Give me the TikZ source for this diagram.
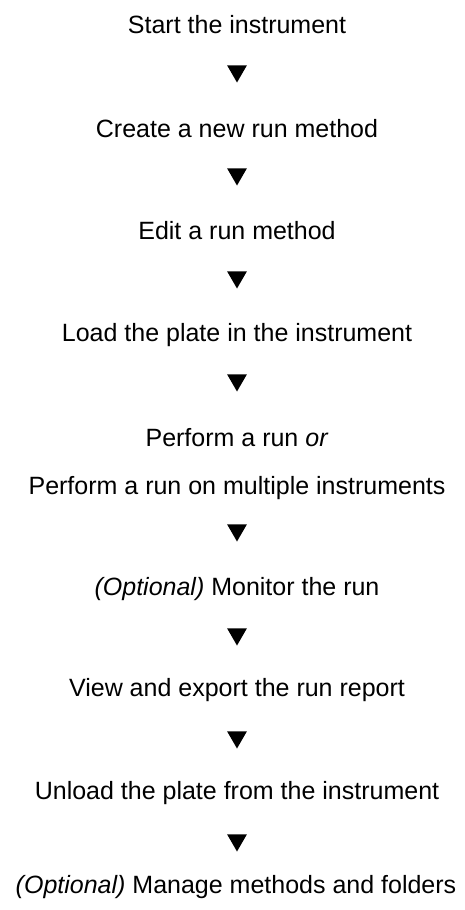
\documentclass[tikz,border=0pt]{standalone}
\usepackage{fontspec}
\setmainfont{Liberation Sans}
\usetikzlibrary{shapes.geometric}

\tikzset{
    steptext/.style={anchor=base, inner sep=0pt, font=\fontsize{25}{30}\selectfont},
    downmark/.style={regular polygon, regular polygon sides=3, shape border rotate=180,
        fill=black, draw=none, inner sep=0pt, minimum size=23pt},
}

\begin{document}
\begin{tikzpicture}[x=1pt, y=-1pt]
    % Page frame (same size as the reference)
    \useasboundingbox (0,0) rectangle (464,910);

    % Steps of the workflow
    \node[steptext] (start)   at (237,33)  {Start the instrument};
    \node[steptext] (create)  at (237,137) {Create a new run method};
    \node[steptext] (edit)    at (237,239) {Edit a run method};
    \node[steptext] (load)    at (237,341) {Load the plate in the instrument};
    \node[steptext] (run)     at (237,446) {Perform a run \textit{or}};
    \node[steptext] (runmult) at (237,494) {Perform a run on multiple instruments};
    \node[steptext] (monitor) at (237,595) {\textit{(Optional)} Monitor the run};
    \node[steptext] (report)  at (237,696) {View and export the run report};
    \node[steptext] (unload)  at (237,799) {Unload the plate from the instrument};
    \node[steptext] (manage)  at (236,893) {\textit{(Optional)} Manage methods and folders};

    % Arrow marks between the steps
    \node[downmark] (m1) at (237,71)  {};
    \node[downmark] (m2) at (237,174) {};
    \node[downmark] (m3) at (237,277) {};
    \node[downmark] (m4) at (237,380) {};
    \node[downmark] (m5) at (237,530) {};
    \node[downmark] (m6) at (237,634) {};
    \node[downmark] (m7) at (237,737) {};
    \node[downmark] (m8) at (237,840) {};

\end{tikzpicture}
\end{document}
